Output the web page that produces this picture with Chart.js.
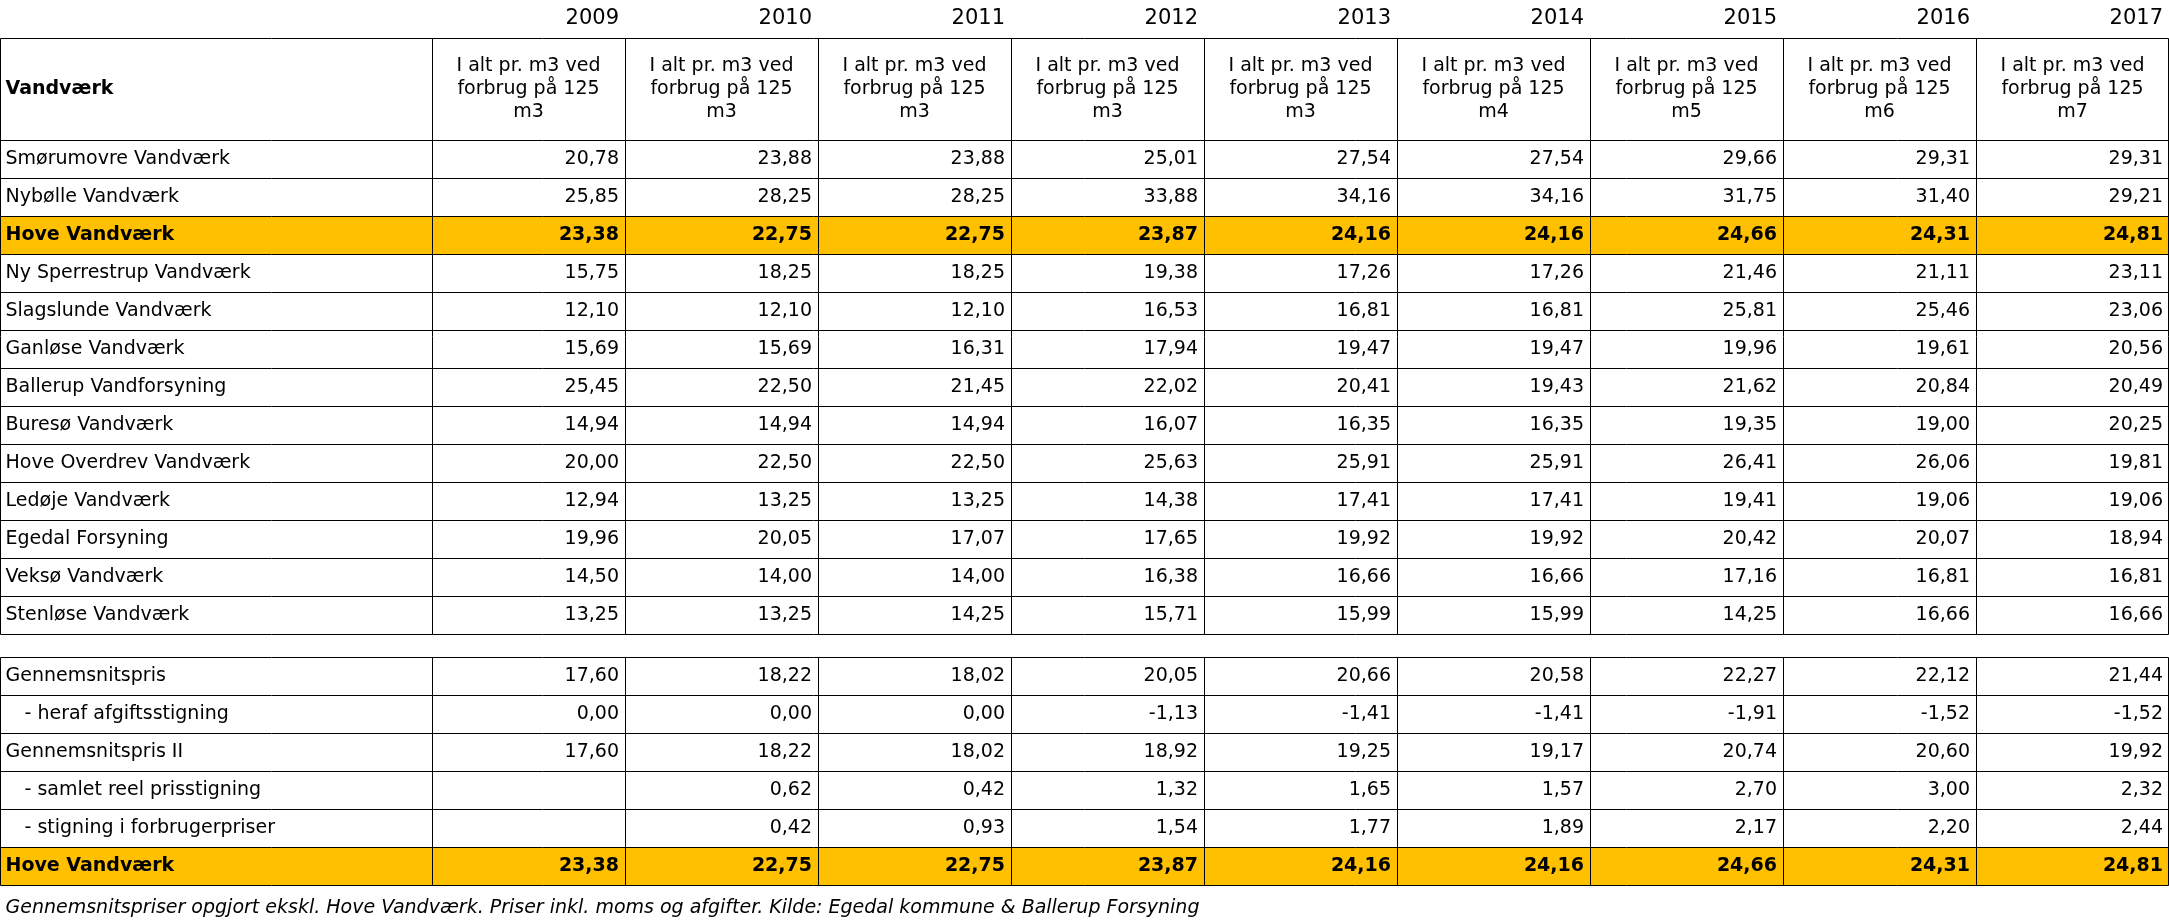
<!DOCTYPE html>
<html><head><meta charset="utf-8">
<script src="https://cdn.jsdelivr.net/npm/chart.js@4"></script>
<style>body{margin:0;background:#fff}canvas{display:block}</style>
</head><body>
<canvas id="myChart" width="2169" height="923"></canvas>
<script>
const years = ['2009','2010','2011','2012','2013','2014','2015','2016','2017'];
const units = ['m3','m3','m3','m3','m3','m4','m5','m6','m7'];
const works = ['Smørumovre Vandværk','Nybølle Vandværk','Hove Vandværk','Ny Sperrestrup Vandværk','Slagslunde Vandværk','Ganløse Vandværk','Ballerup Vandforsyning','Buresø Vandværk','Hove Overdrev Vandværk','Ledøje Vandværk','Egedal Forsyning','Veksø Vandværk','Stenløse Vandværk'];
const workValues = [
  [20.78,23.88,23.88,25.01,27.54,27.54,29.66,29.31,29.31],
  [25.85,28.25,28.25,33.88,34.16,34.16,31.75,31.40,29.21],
  [23.38,22.75,22.75,23.87,24.16,24.16,24.66,24.31,24.81],
  [15.75,18.25,18.25,19.38,17.26,17.26,21.46,21.11,23.11],
  [12.10,12.10,12.10,16.53,16.81,16.81,25.81,25.46,23.06],
  [15.69,15.69,16.31,17.94,19.47,19.47,19.96,19.61,20.56],
  [25.45,22.50,21.45,22.02,20.41,19.43,21.62,20.84,20.49],
  [14.94,14.94,14.94,16.07,16.35,16.35,19.35,19.00,20.25],
  [20.00,22.50,22.50,25.63,25.91,25.91,26.41,26.06,19.81],
  [12.94,13.25,13.25,14.38,17.41,17.41,19.41,19.06,19.06],
  [19.96,20.05,17.07,17.65,19.92,19.92,20.42,20.07,18.94],
  [14.50,14.00,14.00,16.38,16.66,16.66,17.16,16.81,16.81],
  [13.25,13.25,14.25,15.71,15.99,15.99,14.25,16.66,16.66]
];
const summary = ['Gennemsnitspris','  - heraf afgiftsstigning','Gennemsnitspris II','  - samlet reel prisstigning','  - stigning i forbrugerpriser','Hove Vandværk'];
const summaryValues = [
  [17.60,18.22,18.02,20.05,20.66,20.58,22.27,22.12,21.44],
  [0.00,0.00,0.00,-1.13,-1.41,-1.41,-1.91,-1.52,-1.52],
  [17.60,18.22,18.02,18.92,19.25,19.17,20.74,20.60,19.92],
  [null,0.62,0.42,1.32,1.65,1.57,2.70,3.00,2.32],
  [null,0.42,0.93,1.54,1.77,1.89,2.17,2.20,2.44],
  [23.38,22.75,22.75,23.87,24.16,24.16,24.66,24.31,24.81]
];
const note = 'Gennemsnitspriser opgjort ekskl. Hove Vandværk. Priser inkl. moms og afgifter. Kilde: Egedal kommune & Ballerup Forsyning';

// layout in scale units: x = year columns (1 unit each), y = 38px rows
const FIRST = 432/193;
const HEAD_TOP = 1, DATA_TOP = 140/38, GAP = 23/38;
const SUM_TOP = DATA_TOP + works.length + GAP;
const fmt = v => v === null ? '' : v.toFixed(2).replace('.', ',');

const rows = [];
works.forEach((w,i)=>rows.push({label:w, vals:workValues[i], top:DATA_TOP+i, hl:w==='Hove Vandværk'}));
summary.forEach((w,i)=>rows.push({label:w, vals:summaryValues[i], top:SUM_TOP+i, hl:i===5}));

const pts = [];
rows.forEach(r=>r.vals.forEach((v,j)=>pts.push({x:j+0.5, y:r.top+0.5, t:fmt(v), hl:r.hl})));

const F = '"DejaVu Sans", Verdana, sans-serif';
const tablePlugin = {
  id: 'table',
  beforeDatasetsDraw(chart) {
    const c = chart.ctx, X = chart.scales.x, Y = chart.scales.y;
    const px = v => Math.round(X.getPixelForValue(v)) + 0.5;
    const py = v => Math.round(Y.getPixelForValue(v)) + 0.5;
    const L = px(-FIRST), R = px(9) - 1;
    c.save();
    // highlight fills
    c.fillStyle = '#FFC000';
    rows.filter(r=>r.hl).forEach(r=>c.fillRect(L, py(r.top), R-L, py(r.top+1)-py(r.top)));
    c.strokeStyle = '#000'; c.lineWidth = 1;
    const hline = y => {c.beginPath(); c.moveTo(L,py(y)); c.lineTo(R,py(y)); c.stroke();};
    const vlines = (a,b) => {for (let j=-FIRST;j<=9.001;j+= (j<0?FIRST:1)){const x=j>=9?R:px(j);c.beginPath();c.moveTo(x,py(a));c.lineTo(x,py(b));c.stroke();}};
    hline(HEAD_TOP); hline(DATA_TOP);
    for (let i=1;i<=works.length;i++) hline(DATA_TOP+i);
    for (let i=0;i<=summary.length;i++) hline(SUM_TOP+i);
    vlines(HEAD_TOP, DATA_TOP+works.length);
    vlines(SUM_TOP, SUM_TOP+summary.length);
    // year header
    c.fillStyle = '#000'; c.textBaseline = 'middle';
    c.font = '21px ' + F; c.textAlign = 'right';
    years.forEach((y,j)=>c.fillText(y, X.getPixelForValue(j+1)-6, Y.getPixelForValue(0.5)));
    c.font = 'bold 19px ' + F; c.textAlign = 'left';
    c.fillText('Vandværk', L+5, Y.getPixelForValue((HEAD_TOP+DATA_TOP)/2));
    c.font = '19px ' + F; c.textAlign = 'center';
    units.forEach((u,j)=>{
      const x = X.getPixelForValue(j+0.5), ym = Y.getPixelForValue((HEAD_TOP+DATA_TOP)/2);
      ['I alt pr. m3 ved','forbrug på 125',u].forEach((t,k)=>c.fillText(t, x, ym+(k-1)*23));
    });
    c.textAlign = 'left';
    rows.forEach(r=>{
      c.font = (r.hl?'bold ':'') + '19px ' + F;
      c.fillText(r.label.replace(/^  /,'\u2003'), L+5, Y.getPixelForValue(r.top+0.5));
    });
    c.font = 'italic 19px ' + F;
    c.fillText(note, L+5, Y.getPixelForValue(SUM_TOP+summary.length+0.6));
    c.restore();
  },
  afterDatasetsDraw(chart) {
    const c = chart.ctx, meta = chart.getDatasetMeta(0);
    c.save(); c.fillStyle = '#000'; c.textAlign = 'right'; c.textBaseline = 'middle';
    meta.data.forEach((el,i)=>{
      const p = pts[i];
      c.font = (p.hl?'bold ':'') + '19px ' + F;
      c.fillText(p.t, chart.scales.x.getPixelForValue(p.x+0.5)-6, el.y);
    });
    c.restore();
  }
};

new Chart(document.getElementById('myChart'), {
  type: 'scatter',
  data: { datasets: [{ data: pts, pointRadius: 0, pointHoverRadius: 0 }] },
  options: {
    responsive: false, animation: false, devicePixelRatio: 1,
    layout: { padding: 0 },
    plugins: { legend: {display:false}, tooltip: {enabled:false} },
    scales: {
      x: { type:'linear', min:-FIRST, max:9, display:false },
      y: { type:'linear', min:0, max:923/38, reverse:true, display:false }
    }
  },
  plugins: [tablePlugin]
});
</script>
</body></html>
